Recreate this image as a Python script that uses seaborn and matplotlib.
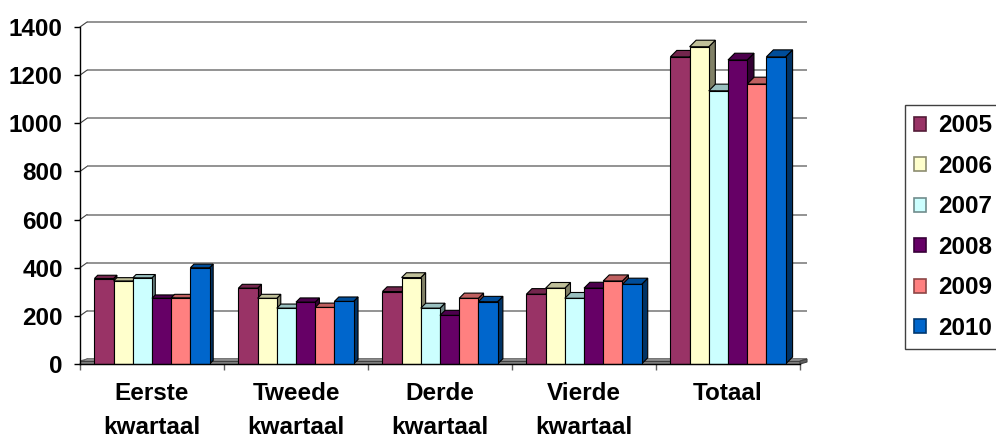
import numpy as np
import pandas as pd
import matplotlib
matplotlib.use("Agg")
import matplotlib.pyplot as plt
import matplotlib.colors as mc
from matplotlib.patches import Polygon, Patch, Rectangle
import seaborn as sns

categories = ["Eerste\nkwartaal", "Tweede\nkwartaal", "Derde\nkwartaal", "Vierde\nkwartaal", "Totaal"]
years = ["2005", "2006", "2007", "2008", "2009", "2010"]
v2005 = [355, 315, 301, 290, 1276]
v2006 = [345, 273, 359, 315, 1318]
v2007 = [358, 232, 232, 273, 1135]
v2008 = [273, 257, 202, 315, 1263]
v2009 = [275, 235, 273, 345, 1163]
v2010 = [400, 260, 259, 331, 1276]
colors = ["#993366", "#FFFFCC", "#CCFFFF", "#660066", "#FF8080", "#0066CC"]
yticks = [0, 200, 400, 600, 800, 1000, 1200, 1400]

series = [v2005, v2006, v2007, v2008, v2009, v2010]
rows = []
for yr, vals in zip(years, series):
    for c, v in zip(categories, vals):
        rows.append({"cat": c, "year": yr, "val": v})
df = pd.DataFrame(rows)

sns.set_style("white")
plt.rcParams["font.family"] = ["Liberation Sans", "DejaVu Sans"]
plt.rcParams["font.weight"] = "bold"
plt.rcParams["text.color"] = "black"
plt.rcParams["xtick.color"] = "black"
plt.rcParams["ytick.color"] = "black"
plt.rcParams["axes.labelcolor"] = "black"

FS = 17.5

W, H = 996, 438
fig = plt.figure(figsize=(W / 100, H / 100), dpi=100)
fig.patch.set_facecolor("white")

# front plane of the 3D box
x_left, x_right = 80, 800
y_zero, y_top = 364, 27
ax = fig.add_axes([x_left / W, (H - y_zero) / H, (x_right - x_left) / W, (y_zero - y_top) / H])
ax.patch.set_visible(False)

sns.barplot(data=df, x="cat", y="val", hue="year", hue_order=years, order=categories,
            palette=colors, saturation=1, width=0.8, errorbar=None,
            edgecolor="black", linewidth=0.8, legend=False, ax=ax)

ax.set_xlim(-0.5, 4.5)
ax.set_ylim(0, 1400)
ax.set_xlabel("")
ax.set_ylabel("")

px_x = (x_right - x_left) / 5.0
px_y = (y_zero - y_top) / 1400.0

def shade(c, f):
    r, g, b = mc.to_rgb(c)
    return (r * f, g * f, b * f)

# back wall offset
wall_dx = 7 / px_x
wall_dy = 5 / px_y

# floor
fl_top = 3 / px_y
floor_top = Polygon([(-0.5, fl_top), (4.5, fl_top), (4.5 + wall_dx, wall_dy), (-0.5 + wall_dx, wall_dy)],
                    closed=True, facecolor="#c0c0c0", edgecolor="#606060", linewidth=0.8,
                    zorder=1.2, clip_on=False)
floor_front = Polygon([(-0.5, 0), (4.5, 0), (4.5, fl_top), (-0.5, fl_top)],
                      closed=True, facecolor="#808080", edgecolor="#404040", linewidth=0.8,
                      zorder=1.3, clip_on=False)
floor_side = Polygon([(4.5, 0), (4.5, fl_top), (4.5 + wall_dx, wall_dy), (4.5 + wall_dx, wall_dy - fl_top)],
                     closed=True, facecolor="#606060", edgecolor="#404040", linewidth=0.8,
                     zorder=1.3, clip_on=False)
for p in (floor_top, floor_front, floor_side):
    ax.add_patch(p)

# gridlines on back wall + connectors to the axis
for v in yticks:
    ax.plot([-0.5 + wall_dx, 4.5 + wall_dx], [v + wall_dy, v + wall_dy], color="#808080",
            linewidth=1.2, zorder=1.1, clip_on=False, solid_capstyle="butt")
    ax.plot([-0.5, -0.5 + wall_dx], [v, v + wall_dy], color="#404040",
            linewidth=0.8, zorder=1.1, clip_on=False)

# 3D faces on bars
bars = [p for p in ax.patches if isinstance(p, Rectangle) and p.get_height() > 0 and p.get_width() < 1]
bars = sorted(bars, key=lambda p: p.get_x())
for k, p in enumerate(bars):
    x0, w, h = p.get_x(), p.get_width(), p.get_height()
    xc = x0 + w / 2
    d = 3.3 + 0.85 * max(xc, 0)
    dxd, dyd = d / px_x, d / px_y
    fc = p.get_facecolor()
    base = 2 + k * 0.01
    side = Polygon([(x0 + w, 0), (x0 + w, h), (x0 + w + dxd, h + dyd), (x0 + w + dxd, dyd)],
                   closed=True, facecolor=shade(fc, 0.5), edgecolor="black", linewidth=0.8,
                   zorder=base + 0.001, clip_on=False)
    top = Polygon([(x0, h), (x0 + w, h), (x0 + w + dxd, h + dyd), (x0 + dxd, h + dyd)],
                  closed=True, facecolor=shade(fc, 0.75), edgecolor="black", linewidth=0.8,
                  zorder=base + 0.002, clip_on=False)
    ax.add_patch(side)
    ax.add_patch(top)
    p.set_zorder(base + 0.003)

# axes styling
for s in ("top", "right"):
    ax.spines[s].set_visible(False)
ax.spines["left"].set_color("black")
ax.spines["left"].set_linewidth(1.0)
ax.spines["bottom"].set_color("black")
ax.spines["bottom"].set_linewidth(1.0)
ax.spines["left"].set_zorder(5)

ax.set_yticks(yticks)
ax.set_yticklabels([str(t) for t in yticks], fontsize=FS, fontweight="bold", color="black")
ax.tick_params(axis="y", direction="out", length=4, width=1, pad=8.5, colors="black", left=True)
ax.set_xticks(range(len(categories)))
ax.set_xticklabels(categories, fontsize=FS, fontweight="bold", linespacing=1.6, color="black")
ax.tick_params(axis="x", which="major", length=0, pad=13)
ax.set_xticks([-0.5, 0.5, 1.5, 2.5, 3.5, 4.5], minor=True)
ax.tick_params(axis="x", which="minor", direction="out", length=4, width=1, color="#606060", bottom=True)
ax.grid(False)

# legend
handles = [Patch(facecolor=c, edgecolor=shade(c, 0.55), linewidth=1.2) for c in colors]
leg = fig.legend(handles, years, loc="upper left", bbox_to_anchor=(905 / W, 1 - 105 / H),
                 bbox_transform=fig.transFigure, borderaxespad=0, frameon=True, fancybox=False,
                 edgecolor="#404040", framealpha=1, borderpad=0.38, labelspacing=0.72,
                 handlelength=0.5, handleheight=0.5, handletextpad=0.5,
                 prop={"size": FS, "weight": "bold"})
leg.get_frame().set_linewidth(1.0)
for t in leg.get_texts():
    t.set_color("black")

fig.savefig("out.png", dpi=100, facecolor="white")
